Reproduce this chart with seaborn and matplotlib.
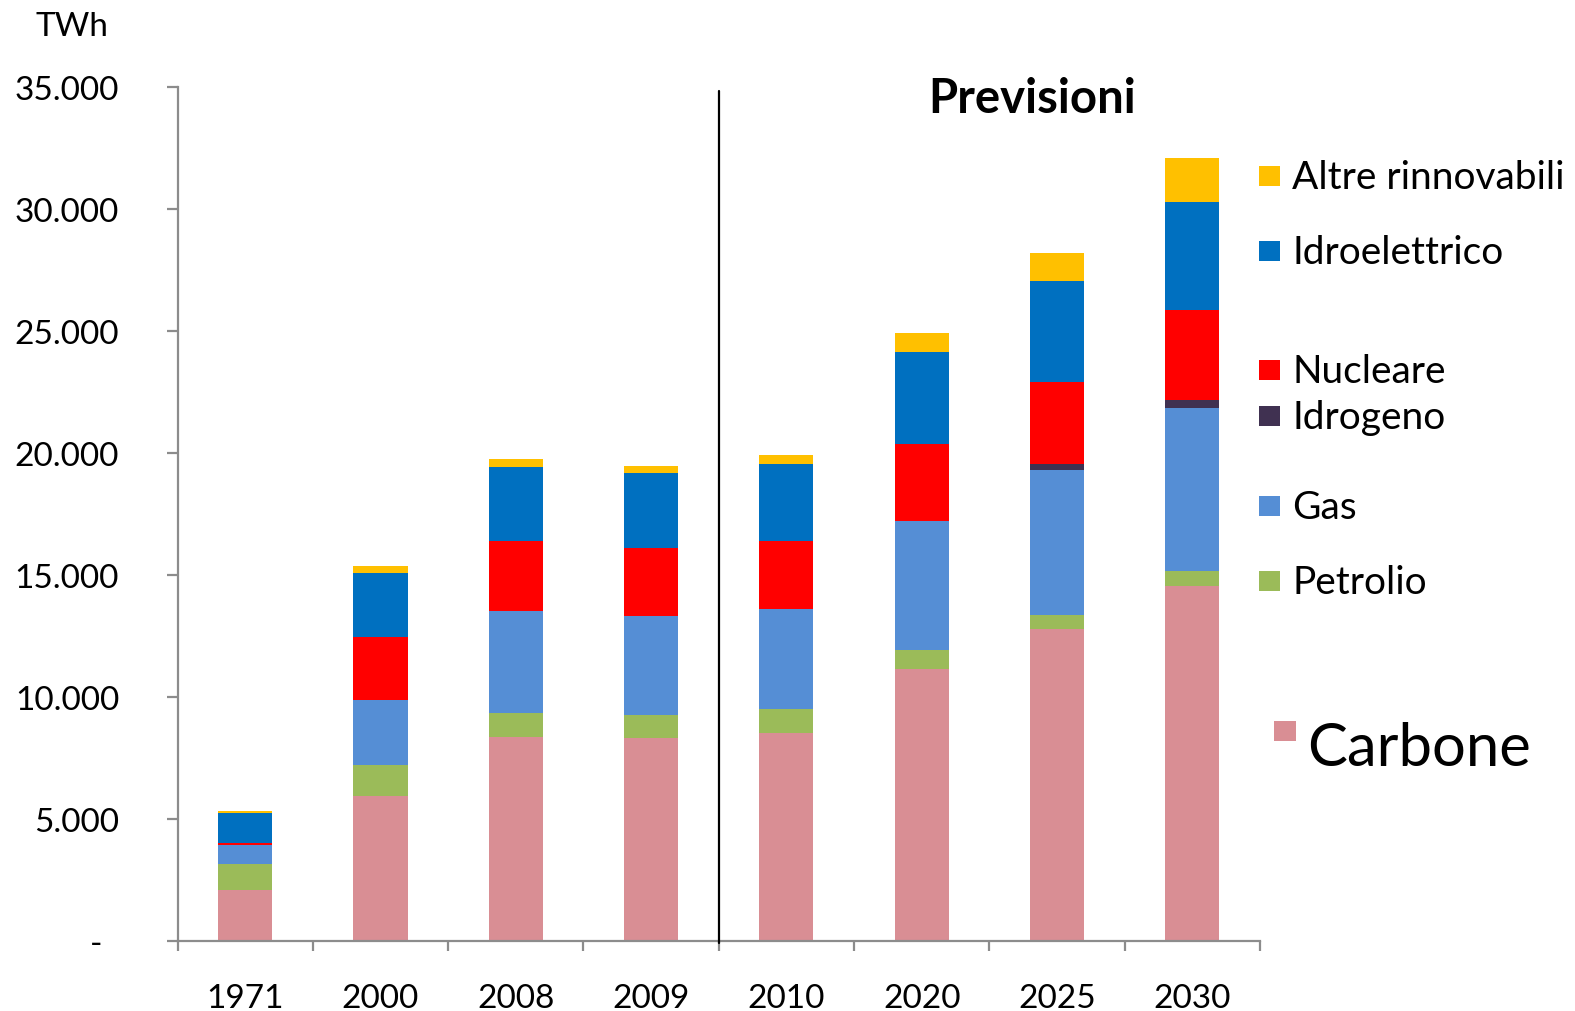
import numpy as np
import pandas as pd
import matplotlib.pyplot as plt
import seaborn as sns
from matplotlib.patches import Rectangle

# TWh per fonte
years = ["1971", "2000", "2008", "2009", "2010", "2020", "2025", "2030"]
carbone = [2070, 5950, 8380, 8310, 8530, 11150, 12780, 14540]
petrolio = [1100, 1270, 950, 960, 960, 770, 600, 620]
gas = [770, 2640, 4190, 4040, 4110, 5290, 5940, 6680]
idrogeno = [0, 0, 0, 0, 0, 0, 220, 350]
nucleare = [70, 2580, 2880, 2780, 2790, 3150, 3390, 3670]
idroelettrico = [1250, 2630, 3010, 3080, 3150, 3760, 4110, 4420]
altre = [50, 300, 360, 300, 380, 810, 1170, 1820]

sources = ["Carbone", "Petrolio", "Gas", "Idrogeno", "Nucleare",
           "Idroelettrico", "Altre rinnovabili"]
colors = ["#D98E94", "#9BBB59", "#558ED5", "#403151", "#FF0000",
          "#0070C0", "#FFC000"]
yticks = [0, 5000, 10000, 15000, 20000, 25000, 30000, 35000]

df = pd.DataFrame({"anno": years, "Carbone": carbone, "Petrolio": petrolio,
                   "Gas": gas, "Idrogeno": idrogeno, "Nucleare": nucleare,
                   "Idroelettrico": idroelettrico, "Altre rinnovabili": altre})
cum = df[sources].cumsum(axis=1)

sns.set_style("white")
plt.rcParams["font.family"] = ["Lato", "DejaVu Sans"]
plt.rcParams["text.color"] = "black"

W, H = 1575, 1012
fig = plt.figure(figsize=(W / 100, H / 100), dpi=100)
ax = fig.add_axes([177.5 / W, 1 - 942 / H, (1260 - 177.5) / W, (942 - 88) / H])

# barre impilate: totali cumulati disegnati dall'alto verso il basso
for src, col in reversed(list(zip(sources, colors))):
    sns.barplot(x=df["anno"], y=cum[src], color=col, saturation=1, width=0.4,
                errorbar=None, linewidth=0, order=years, ax=ax)

ax.set_xlim(-0.5, 7.5)
ax.set_ylim(0, 35000)
ax.set_xlabel("")
ax.set_ylabel("")

gray = "#8C8C8C"
for s in ["top", "right"]:
    ax.spines[s].set_visible(False)
for s in ["left", "bottom"]:
    ax.spines[s].set_color(gray)
    ax.spines[s].set_linewidth(1.6)

ax.set_yticks(yticks)
ax.set_yticklabels(["-  "] + [f"{v:,}".replace(",", ".") for v in yticks[1:]])
ax.tick_params(axis="y", length=8, width=1.6, color=gray, pad=34, labelsize=24,
               labelcolor="black", left=True)

ax.set_xticks(range(len(years)))
ax.set_xticklabels(years)
ax.set_xticks(np.arange(-0.5, len(years), 1), minor=True)
ax.tick_params(axis="x", which="major", length=0, pad=30, labelsize=24,
               labelcolor="black")
ax.tick_params(axis="x", which="minor", length=7.5, width=1.6, color=gray,
               bottom=True)

# separatore storico / previsioni
ax.plot([3.5, 3.5], [-80, 34830], color="black", lw=1.6, clip_on=False, zorder=5)

fig.text(1032 / W, 1 - 99 / H, "Previsioni", fontsize=34, fontweight="bold",
         ha="center", va="center")
fig.text(72 / W, 1 - 27 / H, "TWh", fontsize=24, ha="center", va="center")

# legenda manuale
legend_rows = [("Altre rinnovabili", "#FFC000", 177),
               ("Idroelettrico", "#0070C0", 252),
               ("Nucleare", "#FF0000", 371),
               ("Idrogeno", "#403151", 417),
               ("Gas", "#558ED5", 507),
               ("Petrolio", "#9BBB59", 582)]
for label, col, yc in legend_rows:
    fig.add_artist(Rectangle((1259 / W, 1 - (yc + 10) / H), 21 / W, 20 / H,
                             transform=fig.transFigure, color=col, lw=0))
    fig.text(1292 / W, 1 - (yc + 1) / H, label, fontsize=28, va="center")
fig.add_artist(Rectangle((1274 / W, 1 - 742 / H), 22 / W, 20 / H,
                         transform=fig.transFigure, color="#D98E94", lw=0))
fig.text(1307 / W, 1 - 749 / H, "Carbone", fontsize=43, va="center")

fig.savefig("out.png", dpi=100)
